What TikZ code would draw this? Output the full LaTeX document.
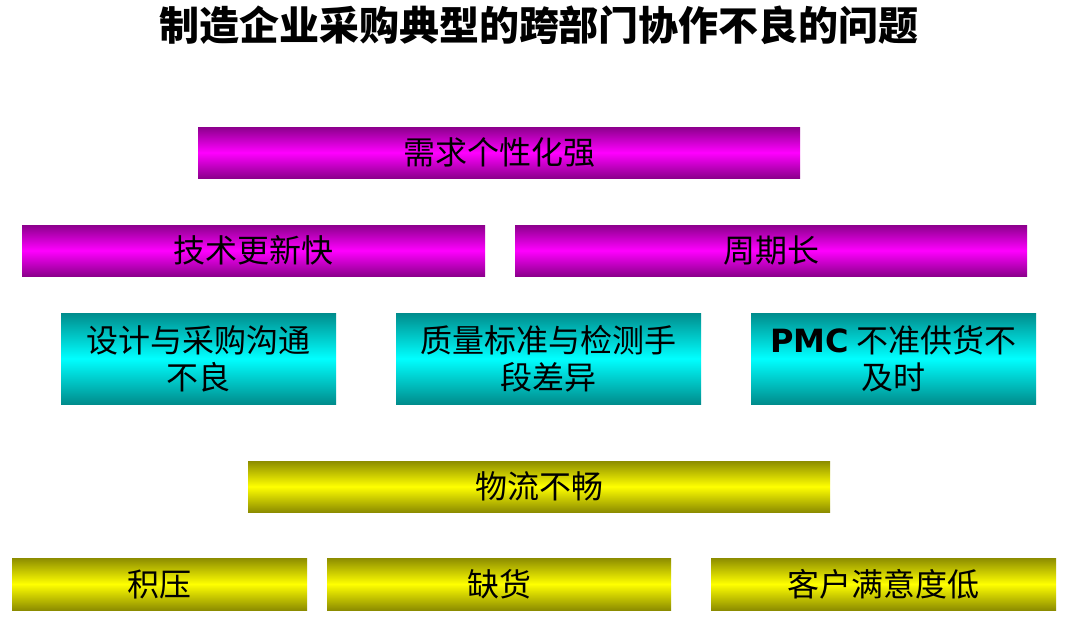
\documentclass[tikz,border=0pt]{standalone}
\usepackage{fontspec}
\setmainfont{Noto Sans CJK SC}
\newfontfamily\latinbold{DejaVu Sans}
\definecolor{mag}{HTML}{FF00FF}
\definecolor{cya}{HTML}{00FFFF}
\definecolor{yel}{HTML}{FFFF00}
\begin{document}
\begin{tikzpicture}[x=1pt,y=-1pt,
  bar/.style={draw=none, inner sep=0pt, shading=axis, font=\fontsize{32}{37}\selectfont, text=black, align=center},
  magbar/.style={bar, top color=mag!55!black, bottom color=mag!55!black, middle color=mag},
  cyabar/.style={bar, top color=cya!55!black, bottom color=cya!55!black, middle color=cya},
  yelbar/.style={bar, top color=yel!55!black, bottom color=yel!55!black, middle color=yel}]
\useasboundingbox (0,0) rectangle (1080,640);
\fill[white] (0,0) rectangle (1080,640);
\node[font=\fontsize{40}{42}\selectfont\bfseries] (title) at (539,25) {制造企业采购典型的跨部门协作不良的问题};
\node[magbar, minimum width=602pt, minimum height=51pt] (n1) at (499,152.5) {需求个性化强};
\node[magbar, minimum width=463pt, minimum height=51pt] (n2) at (253.5,250.5) {技术更新快};
\node[magbar, minimum width=512pt, minimum height=51pt] (n3) at (771,250.5) {周期长};
\node[cyabar, minimum width=275pt, minimum height=91pt] (n4) at (198.5,358.5) {设计与采购沟通\\不良};
\node[cyabar, minimum width=305pt, minimum height=91pt] (n5) at (548.5,358.5) {质量标准与检测手\\段差异};
\node[cyabar, minimum width=285pt, minimum height=91pt] (n6) at (893.5,358.5) {{\latinbold\bfseries PMC} 不准供货不\\及时};
\node[yelbar, minimum width=582pt, minimum height=51pt] (n7) at (539,486.5) {物流不畅};
\node[yelbar, minimum width=295pt, minimum height=52pt] (n8) at (159.5,584) {积压};
\node[yelbar, minimum width=344pt, minimum height=52pt] (n9) at (499,584) {缺货};
\node[yelbar, minimum width=345pt, minimum height=52pt] (n10) at (883.5,584) {客户满意度低};
\end{tikzpicture}
\end{document}
